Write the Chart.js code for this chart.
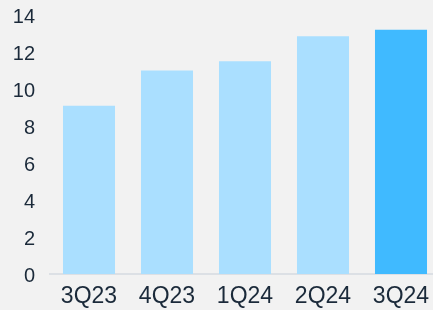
<!DOCTYPE html>
<html>
<head>
<meta charset="utf-8">
<script src="https://cdn.jsdelivr.net/npm/chart.js@4"></script>
<style>
  html, body { margin: 0; padding: 0; background: #f2f2f2; overflow: hidden; }
  #wrap { width: 440px; height: 310px; }
</style>
</head>
<body>
<div id="wrap"><canvas id="chart"></canvas></div>
<script>
// chart data
const quarters = ["3Q23", "4Q23", "1Q24", "2Q24", "3Q24"];
const values = [9.1, 11.0, 11.5, 12.85, 13.2];
const yTicks = [0, 2, 4, 6, 8, 10, 12, 14];

const lightBlue = "#aadfff";
const brightBlue = "#40baff";
const textColor = "#1b2a3a";

const barColors = quarters.map((q, i) => (i === quarters.length - 1 ? brightBlue : lightBlue));

const ctx = document.getElementById("chart").getContext("2d");
new Chart(ctx, {
  type: "bar",
  data: {
    labels: quarters,
    datasets: [
      {
        data: values,
        backgroundColor: barColors,
        borderWidth: 0,
        barPercentage: 0.667,
        categoryPercentage: 1.0,
      },
    ],
  },
  options: {
    responsive: true,
    maintainAspectRatio: false,
    animation: false,
    layout: { padding: { top: 15, left: 0, right: 0, bottom: 0 } },
    plugins: {
      legend: { display: false },
      tooltip: { enabled: false },
    },
    scales: {
      x: {
        grid: { display: false, drawTicks: false },
        border: { display: true, color: "#dce0e5", width: 2 },
        ticks: {
          color: textColor,
          font: { family: "Liberation Sans, Arial, sans-serif", size: 23 },
          padding: 9,
        },
        afterFit: (scale) => {
          scale.height = 36;
          scale.paddingLeft = 0;
          scale.paddingRight = 0;
        },
      },
      y: {
        min: 0,
        max: 14,
        afterBuildTicks: (scale) => {
          scale.ticks = yTicks.map((v) => ({ value: v }));
        },
        grid: { display: false, drawTicks: false },
        border: { display: false },
        ticks: {
          color: textColor,
          font: { family: "Liberation Sans, Arial, sans-serif", size: 20 },
          padding: 15,
          labelOffset: 2,
        },
        afterFit: (scale) => {
          scale.width = 50;
          scale.paddingTop = 0;
          scale.paddingBottom = 0;
        },
      },
    },
  },
});
</script>
</body>
</html>
